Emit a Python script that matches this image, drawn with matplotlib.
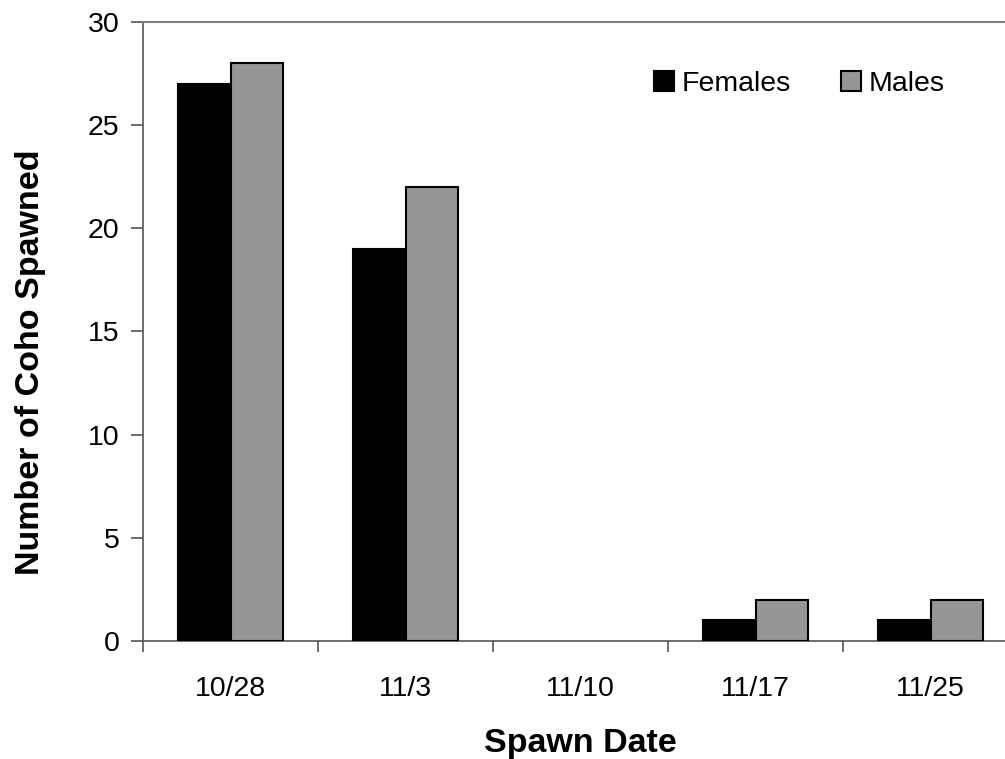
import matplotlib
matplotlib.use("Agg")
import matplotlib.pyplot as plt
import numpy as np

categories = ["10/28", "11/3", "11/10", "11/17", "11/25"]
females = [27, 19, 0, 1, 1]
males = [28, 22, 0, 2, 2]

plt.rcParams['font.family'] = ['Liberation Sans', 'DejaVu Sans']

fig = plt.figure(figsize=(10.05, 7.59), dpi=100)
ax = fig.add_axes([143/1005, (759-641)/759, (1018-143)/1005, (641-22)/759])

x = np.arange(len(categories))
w = 0.3
fb = ax.bar(x - w/2, females, width=w, color='black', edgecolor='black', linewidth=1.5, label='Females', zorder=3)
mb = ax.bar(x + w/2, males, width=w, color='#969696', edgecolor='black', linewidth=1.5, label='Males', zorder=3)
for bars in (fb, mb):
    for b in bars:
        if b.get_height() == 0:
            b.set_linewidth(0)

ax.set_xlim(-0.5, len(categories) - 0.5)
ax.set_ylim(0, 30)
ax.set_yticks([0, 5, 10, 15, 20, 25, 30])
ax.set_xticks(x)
ax.set_xticklabels(categories)
ax.set_xticks(np.arange(len(categories)+1) - 0.5, minor=True)
ax.tick_params(axis='x', which='major', length=0, pad=25, labelsize=20.5)
ax.tick_params(axis='x', which='minor', length=8, width=1.2, color='#555555', direction='out')
ax.tick_params(axis='y', length=9, width=1.2, color='#555555', direction='out', labelsize=20.5, pad=8)

for s in ['left', 'bottom']:
    ax.spines[s].set_color('#555555')
    ax.spines[s].set_linewidth(1.2)
ax.spines['top'].set_color('#808080')
ax.spines['top'].set_linewidth(1.5)
ax.spines['right'].set_visible(False)

ax.set_xlabel('Spawn Date', fontsize=24.5, fontweight='bold', labelpad=19)
ax.set_ylabel('Number of Coho Spawned', fontsize=24.5, fontweight='bold', labelpad=30)
ax.yaxis.label.set_y((641-362)/619)

leg = ax.legend(loc='center left', bbox_to_anchor=((654-143)/875, (641-84)/619), ncol=2, frameon=False,
                fontsize=20.5, handlelength=0.7, handleheight=0.7, handletextpad=0.28,
                columnspacing=1.75, borderpad=0, borderaxespad=0)

fig.savefig('out.png', dpi=100)
